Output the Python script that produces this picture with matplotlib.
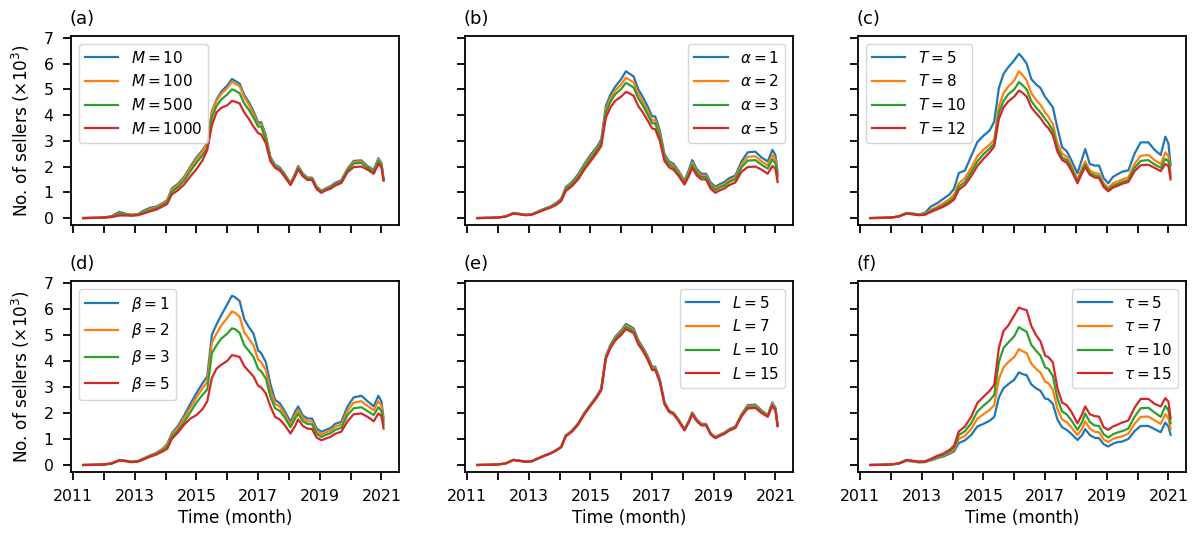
import matplotlib
matplotlib.use("Agg")
import matplotlib.pyplot as plt

# ---- data (values in thousands of sellers) ----
t = [2011.33, 2011.75, 2012.0, 2012.25, 2012.5, 2012.67, 2012.9, 2013.1, 2013.3, 2013.5, 2013.7, 2013.9,
     2014.05, 2014.2, 2014.4, 2014.6, 2014.8, 2015.0, 2015.2, 2015.35, 2015.5, 2015.65, 2015.8, 2016.0,
     2016.15, 2016.25, 2016.4, 2016.55, 2016.7, 2016.85, 2017.0, 2017.1, 2017.25, 2017.4, 2017.55, 2017.7,
     2017.85, 2018.05, 2018.2, 2018.3, 2018.45, 2018.6, 2018.75, 2018.9, 2019.05, 2019.2, 2019.35, 2019.5,
     2019.7, 2019.9, 2020.1, 2020.35, 2020.55, 2020.75, 2020.9, 2021.0, 2021.07]

# (a) M
M10 = [0.00,0.01,0.02,0.08,0.24,0.18,0.13,0.15,0.30,0.40,0.45,0.58, 0.70,1.15,1.33,1.60,2.00,2.35,2.65,2.92,4.15,4.60,4.90,5.15,
       5.40,5.33,5.22,4.78,4.50,4.15,3.72,3.72,3.22,2.37,2.07,1.97, 1.73,1.36,1.72,2.02,1.73,1.57,1.57,1.22,1.06,1.16,1.24,1.37,
       1.47,1.92,2.22,2.24,2.02,1.87,2.32,2.14,1.52]
M100 = [0.00,0.01,0.02,0.06,0.18,0.16,0.12,0.14,0.25,0.35,0.42,0.55, 0.68,1.10,1.28,1.55,1.95,2.28,2.60,2.88,4.10,4.55,4.82,5.05,
        5.30,5.22,5.12,4.70,4.40,4.05,3.65,3.65,3.15,2.32,2.03,1.93, 1.70,1.34,1.68,1.98,1.70,1.54,1.54,1.19,1.04,1.14,1.21,1.33,
        1.43,1.88,2.18,2.20,1.98,1.83,2.28,2.10,1.50]
M500 = [0.00,0.01,0.02,0.05,0.15,0.14,0.11,0.13,0.22,0.30,0.38,0.50, 0.62,1.02,1.20,1.45,1.82,2.15,2.45,2.72,3.90,4.35,4.60,4.80,
        5.00,4.95,4.85,4.45,4.20,3.90,3.55,3.55,3.05,2.28,2.00,1.90, 1.68,1.32,1.66,1.95,1.68,1.52,1.52,1.17,1.03,1.12,1.19,1.31,
        1.41,1.85,2.12,2.14,1.95,1.80,2.22,2.05,1.48]
M1000 = [0.00,0.01,0.02,0.04,0.10,0.10,0.09,0.11,0.18,0.26,0.33,0.45, 0.55,0.92,1.08,1.30,1.62,1.90,2.25,2.65,3.60,4.10,4.28,4.38,
         4.55,4.52,4.45,4.10,3.85,3.55,3.30,3.25,2.90,2.20,1.95,1.85, 1.62,1.28,1.62,1.90,1.62,1.48,1.48,1.12,0.98,1.08,1.14,1.26,
         1.36,1.78,1.98,2.00,1.88,1.72,2.10,1.98,1.45]

# (b) alpha
A1 = [0.00,0.01,0.02,0.06,0.20,0.17,0.13,0.15,0.26,0.36,0.45,0.60, 0.75,1.20,1.40,1.70,2.10,2.45,2.75,3.05,4.35,4.80,5.10,5.40,
      5.70,5.62,5.50,5.00,4.70,4.35,3.95,3.95,3.40,2.50,2.20,2.10, 1.85,1.45,1.90,2.25,1.90,1.72,1.72,1.38,1.22,1.32,1.40,1.55,
      1.65,2.20,2.55,2.58,2.35,2.20,2.65,2.45,1.80]
A2 = [0.00,0.01,0.02,0.06,0.19,0.16,0.12,0.14,0.25,0.35,0.43,0.57, 0.72,1.15,1.35,1.63,2.03,2.37,2.68,2.97,4.22,4.65,4.95,5.20,
      5.45,5.38,5.27,4.82,4.52,4.18,3.80,3.80,3.28,2.42,2.13,2.03, 1.79,1.40,1.82,2.15,1.82,1.65,1.65,1.30,1.15,1.25,1.32,1.47,
      1.57,2.08,2.38,2.40,2.20,2.05,2.45,2.28,1.68]
A3 = [0.00,0.01,0.02,0.06,0.18,0.16,0.12,0.14,0.24,0.34,0.42,0.55, 0.70,1.12,1.31,1.58,1.97,2.30,2.62,2.90,4.10,4.52,4.80,5.02,
      5.25,5.18,5.07,4.65,4.37,4.03,3.68,3.68,3.18,2.35,2.07,1.97, 1.73,1.36,1.75,2.07,1.75,1.59,1.59,1.24,1.09,1.19,1.26,1.40,
      1.50,1.97,2.23,2.25,2.07,1.92,2.28,2.12,1.58]
A5 = [0.00,0.01,0.02,0.06,0.17,0.15,0.11,0.13,0.22,0.32,0.40,0.52, 0.66,1.05,1.24,1.50,1.88,2.20,2.52,2.80,3.90,4.30,4.55,4.72,
      4.90,4.85,4.75,4.35,4.10,3.80,3.48,3.45,3.00,2.22,1.97,1.87, 1.65,1.30,1.65,1.95,1.65,1.50,1.50,1.14,0.98,1.08,1.15,1.28,
      1.38,1.80,1.98,2.00,1.88,1.72,2.02,1.92,1.40]

# (c) T
T5 = [0.00,0.01,0.02,0.07,0.20,0.18,0.14,0.20,0.45,0.58,0.75,0.92, 1.15,1.75,1.85,2.40,2.95,3.20,3.40,3.75,5.05,5.60,5.85,6.13,
      6.38,6.25,6.00,5.40,5.20,5.05,4.70,4.55,4.30,3.50,2.75,2.60, 2.25,1.74,2.30,2.68,2.10,2.04,2.04,1.55,1.35,1.60,1.70,1.80,
      1.85,2.50,2.94,2.94,2.65,2.45,3.16,2.90,2.04]
T8 = [0.00,0.01,0.02,0.06,0.19,0.17,0.13,0.16,0.32,0.44,0.58,0.74, 0.92,1.35,1.55,1.95,2.40,2.65,2.85,3.05,4.35,4.85,5.10,5.35,
      5.70,5.58,5.35,4.85,4.60,4.40,4.10,3.95,3.65,2.90,2.50,2.38, 2.05,1.50,1.95,2.20,1.85,1.75,1.72,1.35,1.18,1.35,1.42,1.50,
      1.58,2.10,2.42,2.45,2.25,2.10,2.55,2.40,1.75]
T10 = [0.00,0.01,0.02,0.06,0.18,0.16,0.12,0.14,0.27,0.38,0.50,0.65, 0.80,1.22,1.40,1.78,2.20,2.48,2.70,2.90,4.10,4.55,4.80,5.00,
       5.28,5.18,5.00,4.55,4.30,4.10,3.85,3.70,3.40,2.70,2.35,2.25, 1.95,1.42,1.85,2.08,1.75,1.65,1.62,1.27,1.10,1.25,1.32,1.40,
       1.48,1.95,2.22,2.25,2.08,1.95,2.30,2.20,1.62]
T12 = [0.00,0.01,0.02,0.06,0.17,0.15,0.11,0.13,0.24,0.34,0.44,0.58, 0.72,1.10,1.28,1.62,2.02,2.30,2.55,2.78,3.85,4.30,4.52,4.72,
       4.95,4.88,4.72,4.30,4.08,3.88,3.62,3.50,3.22,2.58,2.25,2.15, 1.85,1.35,1.75,1.98,1.68,1.58,1.55,1.20,1.04,1.18,1.25,1.33,
       1.40,1.82,2.05,2.07,1.95,1.82,2.10,2.02,1.50]

# (d) beta
B1 = [0.00,0.01,0.02,0.06,0.20,0.17,0.13,0.15,0.26,0.37,0.47,0.62, 0.80,1.22,1.50,1.90,2.35,2.76,3.15,3.40,5.00,5.40,5.75,6.18,
      6.50,6.45,6.30,5.60,5.30,5.05,4.40,4.30,3.95,3.10,2.50,2.38, 2.10,1.66,2.05,2.25,1.90,1.79,1.78,1.40,1.28,1.35,1.42,1.58,
      1.66,2.25,2.60,2.66,2.45,2.25,2.66,2.44,1.79]
B2 = [0.00,0.01,0.02,0.06,0.19,0.17,0.13,0.15,0.25,0.36,0.45,0.60, 0.76,1.18,1.42,1.80,2.20,2.60,2.95,3.20,4.70,5.05,5.35,5.65,
      5.90,5.85,5.70,5.10,4.85,4.60,4.05,3.95,3.65,2.85,2.35,2.25, 1.98,1.55,1.92,2.12,1.80,1.68,1.67,1.30,1.18,1.25,1.32,1.47,
      1.55,2.08,2.40,2.45,2.27,2.10,2.45,2.28,1.68]
B3 = [0.00,0.01,0.02,0.06,0.18,0.16,0.12,0.14,0.24,0.34,0.43,0.56, 0.70,1.10,1.32,1.65,2.02,2.40,2.70,2.90,4.30,4.60,4.85,5.05,
      5.25,5.22,5.08,4.60,4.38,4.15,3.70,3.60,3.32,2.62,2.18,2.08, 1.85,1.45,1.78,1.98,1.68,1.58,1.56,1.20,1.08,1.16,1.22,1.35,
      1.43,1.92,2.18,2.22,2.07,1.92,2.22,2.08,1.55]
B5 = [0.00,0.01,0.02,0.06,0.17,0.15,0.11,0.13,0.22,0.32,0.40,0.52, 0.62,1.00,1.25,1.55,1.78,1.92,2.15,2.45,3.35,3.70,3.85,4.00,
      4.22,4.20,4.15,3.80,3.60,3.40,3.05,2.98,2.75,2.25,1.85,1.75, 1.55,1.21,1.50,1.75,1.50,1.40,1.38,1.05,0.95,1.02,1.08,1.20,
      1.28,1.68,1.95,1.98,1.85,1.68,1.98,1.88,1.40]

# (e) L
L5 = [0.00,0.01,0.02,0.06,0.20,0.17,0.13,0.15,0.26,0.36,0.45,0.58, 0.70,1.14,1.32,1.60,2.00,2.33,2.65,2.95,4.20,4.62,4.92,5.18,
      5.42,5.35,5.25,4.80,4.52,4.20,3.78,3.78,3.30,2.42,2.10,2.00, 1.76,1.38,1.72,2.02,1.75,1.58,1.58,1.22,1.07,1.17,1.25,1.38,
      1.48,1.95,2.30,2.32,2.10,1.92,2.40,2.20,1.55]
L7 = [0.00,0.01,0.02,0.06,0.20,0.17,0.13,0.15,0.26,0.36,0.45,0.58, 0.70,1.13,1.31,1.58,1.98,2.31,2.62,2.92,4.16,4.58,4.87,5.12,
      5.36,5.29,5.19,4.75,4.47,4.15,3.74,3.74,3.26,2.40,2.08,1.98, 1.74,1.37,1.70,2.00,1.73,1.56,1.56,1.21,1.06,1.16,1.24,1.36,
      1.46,1.93,2.26,2.28,2.07,1.90,2.36,2.17,1.53]
L10 = [0.00,0.01,0.02,0.06,0.19,0.17,0.13,0.15,0.25,0.35,0.44,0.57, 0.69,1.12,1.30,1.57,1.96,2.29,2.60,2.90,4.12,4.54,4.83,5.07,
       5.30,5.24,5.14,4.70,4.43,4.11,3.70,3.70,3.22,2.37,2.06,1.96, 1.72,1.35,1.68,1.98,1.71,1.54,1.54,1.19,1.05,1.14,1.22,1.34,
       1.44,1.90,2.22,2.24,2.04,1.88,2.32,2.14,1.51]
L15 = [0.00,0.01,0.02,0.06,0.19,0.16,0.12,0.14,0.25,0.35,0.44,0.56, 0.68,1.10,1.28,1.55,1.94,2.27,2.58,2.87,4.08,4.50,4.78,5.00,
       5.22,5.16,5.07,4.64,4.38,4.06,3.65,3.65,3.18,2.34,2.04,1.94, 1.70,1.33,1.66,1.95,1.68,1.52,1.52,1.17,1.03,1.12,1.20,1.32,
       1.42,1.87,2.17,2.19,2.00,1.85,2.27,2.10,1.49]

# (f) tau
U5 = [0.00,0.01,0.02,0.05,0.16,0.14,0.10,0.11,0.18,0.26,0.33,0.43, 0.53,0.84,0.95,1.15,1.48,1.58,1.70,1.85,2.60,2.95,3.10,3.28,
      3.56,3.50,3.45,3.10,2.95,2.85,2.55,2.53,2.35,1.75,1.45,1.35, 1.20,0.96,1.15,1.38,1.15,1.05,1.03,0.80,0.71,0.82,0.88,0.90,
      1.00,1.30,1.50,1.50,1.38,1.26,1.63,1.48,1.16]
U7 = [0.00,0.01,0.02,0.06,0.17,0.15,0.11,0.12,0.20,0.29,0.37,0.48, 0.60,1.00,1.12,1.38,1.78,1.95,2.12,2.30,3.30,3.75,3.95,4.15,
      4.45,4.38,4.30,3.90,3.70,3.55,3.20,3.15,2.90,2.15,1.75,1.65, 1.45,1.15,1.40,1.68,1.40,1.28,1.26,0.98,0.88,1.00,1.06,1.10,
      1.20,1.58,1.85,1.86,1.72,1.58,1.95,1.80,1.38]
U10 = [0.00,0.01,0.02,0.06,0.18,0.16,0.12,0.13,0.22,0.32,0.40,0.53, 0.67,1.15,1.30,1.60,2.05,2.28,2.48,2.70,3.95,4.50,4.70,4.95,
       5.30,5.22,5.12,4.62,4.40,4.20,3.75,3.70,3.42,2.55,2.05,1.95, 1.72,1.35,1.65,1.98,1.65,1.52,1.50,1.18,1.05,1.18,1.25,1.30,
       1.40,1.85,2.18,2.20,2.02,1.85,2.27,2.10,1.60]
U15 = [0.00,0.01,0.02,0.06,0.19,0.17,0.13,0.14,0.24,0.35,0.44,0.58, 0.75,1.29,1.48,1.85,2.38,2.62,2.85,3.08,4.50,5.15,5.35,5.75,
       6.05,6.00,5.95,5.35,5.00,4.75,4.20,4.15,3.95,2.95,2.40,2.30, 2.05,1.60,1.95,2.25,1.95,1.88,1.86,1.45,1.35,1.48,1.55,1.63,
       1.71,2.20,2.54,2.54,2.35,2.25,2.57,2.44,1.80]

panel_labels = ["(a)", "(b)", "(c)", "(d)", "(e)", "(f)"]
series_labels = [
    [r"$M=10$", r"$M=100$", r"$M=500$", r"$M=1000$"],
    [r"$\alpha=1$", r"$\alpha=2$", r"$\alpha=3$", r"$\alpha=5$"],
    [r"$T=5$", r"$T=8$", r"$T=10$", r"$T=12$"],
    [r"$\beta=1$", r"$\beta=2$", r"$\beta=3$", r"$\beta=5$"],
    [r"$L=5$", r"$L=7$", r"$L=10$", r"$L=15$"],
    [r"$\tau=5$", r"$\tau=7$", r"$\tau=10$", r"$\tau=15$"],
]
series = [[M10, M100, M500, M1000], [A1, A2, A3, A5], [T5, T8, T10, T12],
          [B1, B2, B3, B5], [L5, L7, L10, L15], [U5, U7, U10, U15]]
legend_locs = ["upper left", "upper right", "upper left", "upper left", "upper right", "upper right"]
year_ticks = list(range(2011, 2022))
year_labels = [str(y) if y % 2 == 1 else "" for y in year_ticks]
colors = ["#1f77b4", "#ff7f0e", "#2ca02c", "#d62728"]

plt.rcParams["font.family"] = ["DejaVu Sans"]
fig = plt.figure(figsize=(11.95, 5.37), dpi=100)

W, H = 1195.0, 537.0
lefts = [71, 465, 858]
width = 328
rows = [(36, 224.5), (281, 471.5)]

axes = []
for i in range(6):
    r, c = divmod(i, 3)
    top, bot = rows[r]
    ax = fig.add_axes([lefts[c] / W, 1 - bot / H, width / W, (bot - top) / H])
    axes.append(ax)
    for k in range(4):
        ax.plot(t, series[i][k], color=colors[k], lw=1.6, label=series_labels[i][k])
    ax.set_xlim(2010.93, 2021.57)
    ax.set_ylim(-0.25, 7.07)
    ax.set_xticks(year_ticks)
    ax.set_yticks(range(0, 8))
    ax.tick_params(axis="both", direction="out", length=6, width=1.3, labelsize=11.3, pad=6.5)
    for s in ax.spines.values():
        s.set_linewidth(1.3)
    if r == 1:
        ax.set_xticklabels(year_labels)
        ax.set_xlabel("Time (month)", fontsize=12.2, labelpad=4)
    else:
        ax.set_xticklabels([])
    if c == 0:
        ax.set_ylabel(r"No. of sellers ($\times10^3$)", fontsize=12.2, labelpad=8)
    else:
        ax.set_yticklabels([])
    ax.legend(loc=legend_locs[i], fontsize=11, handlelength=2.2, borderaxespad=0.5)
    ax.text(-0.005, 1.04, panel_labels[i], transform=ax.transAxes, fontsize=13,
            ha="left", va="bottom")

fig.savefig("out.png", dpi=100)
